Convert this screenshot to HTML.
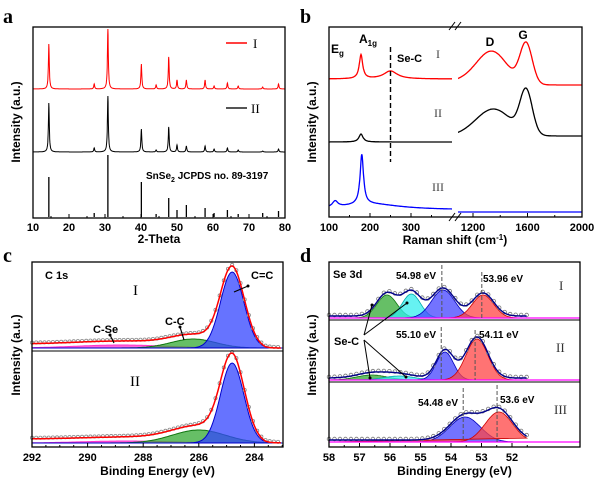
<!DOCTYPE html>
<html><head><meta charset="utf-8"><style>
html,body{margin:0;padding:0;background:#fff}
svg{display:block;font-family:"Liberation Sans",Arial,sans-serif}
.b{font-weight:bold}
.ser{font-family:"Liberation Serif",serif}
</style></head><body>
<svg id="fig" width="600" height="488" viewBox="0 0 600 488" xmlns="http://www.w3.org/2000/svg">
<g id="root"></g>
</svg>
<script>
// ---------- DATA ----------
const xrdPos   = [14.4, 27.0, 30.8, 40.1, 44.2, 47.7, 50.0, 52.6, 57.8, 60.3, 64.0, 67.0, 73.8, 78.2];
const xrdRedH  = [45, 5, 60, 25, 4, 32, 9, 9, 9, 3, 6, 3, 2, 5];
const xrdBlkH  = [49, 4, 56, 23, 2, 25, 7, 6, 6, 3, 4, 2, 1, 3];
const xrdRefH  = [40, 4, 62, 35, 3, 19, 7, 12, 9, 4, 7, 3, 4, 6];
const xrdTicks = [10, 20, 30, 40, 50, 60, 70, 80];
const ramRedLeft  = [[178, 24, 5], [250, 8, 20]];
const ramRedRight = [[1340, 30, 110], [1590, 40, 45], [1200, 5, 200]];
const ramBlkLeft  = [[178, 8, 6]];
const ramBlkRight = [[1350, 27, 130], [1590, 43, 45]];
const ramBluLeft  = [[115, 6, 8], [180, 50, 5], [200, 6, 90]];
const ramTicksL = [100, 200, 300];
const ramTicksR = [1200, 1600, 2000];
const c1Blue = [284.8, 76, 0.42];
const c1Green = [286.2, 9, 0.8];
const c1Mag = [288.8, 3, 1.6];
const c2Blue = [284.8, 80, 0.42];
const c2Green = [286.0, 13, 0.95];
const c2Mag = [288.6, 2, 1.6];
const cTicks = [292, 290, 288, 286, 284];
// panel d (Se 3d): components [center (axis eV), height, sigma]
const d1Comps = [[56.1, 23, 0.33], [55.3, 24, 0.3], [54.26, 28, 0.38], [52.95, 23, 0.35]];
const d2Comps = [[56.6, 5, 0.5], [55.7, 4, 0.5], [54.2, 28, 0.28], [53.15, 41, 0.36]];
const d3Comps = [[53.54, 25, 0.5], [52.43, 30, 0.45]];
const dLines = [54.3, 52.99, 54.32, 53.21, 53.6, 52.49];
const dTicks = [58, 57, 56, 55, 54, 53, 52];

// ---------- HELPERS ----------
const NS = "http://www.w3.org/2000/svg";
const root = document.getElementById('root');
function mk(tag, attrs, parent) {
  const e = document.createElementNS(NS, tag);
  for (const k in attrs) e.setAttribute(k, attrs[k]);
  (parent || root).appendChild(e);
  return e;
}
function txt(x, y, s, cls, size, anchor, parent, fill) {
  const t = mk('text', {x: x, y: y, 'font-size': size, 'text-anchor': anchor || 'start', fill: fill || '#000'}, parent);
  if (cls) t.setAttribute('class', cls);
  t.textContent = s;
  return t;
}
function gauss(x, c, h, s) { return h * Math.exp(-0.5 * ((x - c) / s) ** 2); }
function lor(x, c, h, w) { return h / (1 + ((x - c) / w) ** 2); }
function pathFrom(pts) { return pts.map((p, i) => (i ? 'L' : 'M') + p[0].toFixed(1) + ' ' + p[1].toFixed(1)).join(''); }
function box(x0, y0, x1, y1, name) {
  const r = mk('rect', {x: x0, y: y0, width: x1 - x0, height: y1 - y0, fill: 'none', stroke: '#000', 'stroke-width': 1.3});
  
  
}

// ---------- PANEL A ----------
(function () {
  const g = mk('g', {});
  
  
  const X0 = 33, X1 = 285, Y0 = 27, Y1 = 218;
  const sx = v => X0 + (v - 10) / 70 * (X1 - X0);
  function trace(base, hs, color, name) {
    const pts = [];
    for (let v = 10; v <= 80; v += 0.05) {
      let y = 0;
      xrdPos.forEach((p, i) => { y += lor(v, p, hs[i], 0.15); });
      pts.push([sx(v), base - y]);
    }
    const p = mk('path', {d: pathFrom(pts), fill: 'none', stroke: color, 'stroke-width': 1}, g);
    
    
  }
  trace(89, xrdRedH, '#f00', 'xrd-trace-I');
  trace(152, xrdBlkH, '#000', 'xrd-trace-II');
  xrdPos.forEach((p, i) => {
    const l = mk('line', {x1: sx(p), x2: sx(p), y1: 217, y2: 217 - xrdRefH[i], stroke: '#000', 'stroke-width': 1.3}, g);
    
    
  });
  box(X0, Y0, X1, Y1, 'panel-a-frame');
  for (let v = 10; v <= 80; v += 5) {
    mk('line', {x1: sx(v), x2: sx(v), y1: Y1, y2: Y1 - (v % 10 ? 2 : 4), stroke: '#000'}, g);
  }
  xrdTicks.forEach(v => txt(sx(v), 231, v, 'b', 11, 'middle', g));
  txt((X0 + X1) / 2, 243, '2-Theta', 'b', 12, 'middle', g);
  const yl = txt(0, 0, 'Intensity (a.u.)', 'b', 12, 'middle', g);
  yl.setAttribute('transform', 'translate(20,122) rotate(-90)');
  mk('line', {x1: 226, x2: 247, y1: 43, y2: 43, stroke: '#f00', 'stroke-width': 1.5}, g);
  txt(253, 48, 'I', 'ser', 13, 'start', g);
  mk('line', {x1: 226, x2: 247, y1: 108, y2: 108, stroke: '#555', 'stroke-width': 2}, g);
  txt(251, 113, 'II', 'ser', 13, 'start', g);
  const t = txt(146, 179, 'SnSe', 'b', 10, 'start', g);
  const sub = mk('tspan', {'font-size': 7, dy: 3}, t); sub.textContent = '2';
  const rest = mk('tspan', {dy: -3}, t); rest.textContent = ' JCPDS no. 89-3197';
  txt(3, 23, 'a', 'b ser', 20, 'start', g);
})();

// ---------- PANEL B ----------
(function () {
  const g = mk('g', {});
  
  
  const X0 = 329, X1 = 582, Y0 = 27, Y1 = 217;
  const sL = v => X0 + (v - 100) * 0.41;
  const sR = v => 473 + (v - 1200) * (109 / 800);
  function seg(s, a, b, step, base, peaks, color, name, kind) {
    const pts = [];
    for (let v = a; v <= b; v += step) {
      let y = 0;
      peaks.forEach(p => { y += kind === 'g' ? gauss(v, p[0], p[1], p[2]) : lor(v, p[0], p[1], p[2]); });
      pts.push([s(v), base - y]);
    }
    const p = mk('path', {d: pathFrom(pts), fill: 'none', stroke: color, 'stroke-width': 1.3}, g);
    
    
  }
  seg(sL, 100, 400, 1, 79, ramRedLeft, '#f00', 'raman-I-low', 'l');
  seg(sR, 1085, 2000, 4, 85, ramRedRight, '#f00', 'raman-I-high', 'g');
  seg(sL, 100, 400, 1, 142, ramBlkLeft, '#000', 'raman-II-low', 'l');
  seg(sR, 1085, 2000, 4, 136, ramBlkRight, '#000', 'raman-II-high', 'g');
  seg(sL, 100, 400, 1, 210, ramBluLeft, '#00f', 'raman-III-low', 'l');
  seg(sR, 1085, 2000, 4, 212, [], '#00f', 'raman-III-high', 'l');
  box(X0, Y0, X1, Y1, 'panel-b-frame');
  mk('rect', {x: 452, y: 20, width: 6, height: 204, fill: '#fff'}, g);
  [[449, 30, 455, 22], [455, 30, 461, 22], [449, 221, 455, 213], [455, 221, 461, 213]].forEach(l =>
    mk('line', {x1: l[0], y1: l[1], x2: l[2], y2: l[3], stroke: '#000'}, g));
  const dl = mk('line', {x1: sL(250), x2: sL(250), y1: 47, y2: 162, stroke: '#000', 'stroke-width': 1.4, 'stroke-dasharray': '5,3'}, g);
  
  
  [100, 150, 200, 250, 300, 350].forEach(v => mk('line', {x1: sL(v), x2: sL(v), y1: Y1, y2: Y1 - (v % 100 ? 2 : 4), stroke: '#000'}, g));
  [1200, 1400, 1600, 1800, 2000].forEach(v => mk('line', {x1: sR(v), x2: sR(v), y1: Y1, y2: Y1 - (v % 400 ? 2 : 4), stroke: '#000'}, g));
  ramTicksL.forEach(v => txt(sL(v), 231, v, 'b', 11, 'middle', g));
  ramTicksR.forEach(v => txt(sR(v), 231, v, 'b', 11, 'middle', g));
  const xt = txt(455, 244, 'Raman shift (cm', 'b', 12, 'middle', g);
  const sp = mk('tspan', {'font-size': 8, dy: -4}, xt); sp.textContent = '-1';
  const sp2 = mk('tspan', {dy: 4}, xt); sp2.textContent = ')';
  const yl = txt(0, 0, 'Intensity (a.u.)', 'b', 12, 'middle', g);
  yl.setAttribute('transform', 'translate(316,122) rotate(-90)');
  const eg = txt(331, 53, 'E', 'b', 12, 'start', g); const e1 = mk('tspan', {'font-size': 8, dy: 3}, eg); e1.textContent = 'g';
  const a1 = txt(359, 43, 'A', 'b', 12, 'start', g); const a2 = mk('tspan', {'font-size': 8, dy: 3}, a1); a2.textContent = '1g';
  txt(397, 62, 'Se-C', 'b', 11, 'start', g);
  txt(436, 58, 'I', 'ser', 12, 'start', g, '#444');
  txt(434, 117, 'II', 'ser', 12, 'start', g, '#444');
  txt(432, 191, 'III', 'ser', 12, 'start', g, '#444');
  txt(490, 46, 'D', 'b', 12, 'middle', g);
  txt(523, 39, 'G', 'b', 12, 'middle', g);
  txt(300, 23, 'b', 'b ser', 20, 'start', g);
})();

// ---------- PANEL C ----------
(function () {
  const g = mk('g', {});
  
  
  const X0 = 32, X1 = 283, Y0 = 262, Y1 = 447;
  const sx = v => X0 + (292 - v) * 27.8;
  function spectrum(base, blue, green, mag, off, tag) {
    const comps = [[mag, '#ff33cc', '#ff33cc'], [green, '#33aa33', '#117711'], [blue, '#3344ff', '#0000cc']];
    comps.forEach(c => {
      const pts = [];
      for (let v = 292; v >= 283; v -= 0.05) pts.push([sx(v), base - gauss(v, c[0][0], c[0][1], c[0][2])]);
      const f = mk('path', {d: pathFrom(pts) + 'L' + sx(283) + ' ' + base + 'L' + sx(292) + ' ' + base + 'Z', fill: c[1], 'fill-opacity': 0.75, stroke: c[2], 'stroke-width': 1}, g);
      
      
    });
    const env = [];
    for (let v = 292; v >= 283; v -= 0.05) {
      const y = gauss(v, blue[0], blue[1], blue[2]) + gauss(v, green[0], green[1], green[2]) + gauss(v, mag[0], mag[1], mag[2]) + off * (v > 284.2 ? 1 : Math.max(0, (v - 283.6) / 0.6));
      env.push([sx(v), base - y]);
    }
    env.forEach((p, i) => { if (i % 3 === 0) mk('circle', {cx: p[0], cy: p[1] - 1, r: 1.6, fill: '#fff', stroke: '#888', 'stroke-width': 0.8}, g); });
    const e = mk('path', {d: pathFrom(env), fill: 'none', stroke: '#f00', 'stroke-width': 1.5}, g);
    
    
  }
  spectrum(348, c1Blue, c1Green, c1Mag, 4, 'c1s-I');
  spectrum(443, c2Blue, c2Green, c2Mag, 4, 'c1s-II');
  mk('line', {x1: X0, x2: X1, y1: 351, y2: 351, stroke: '#000', 'stroke-width': 1}, g);
  box(X0, Y0, X1, Y1, 'panel-c-frame');
  for (let v = 292; v >= 283; v -= 0.5) mk('line', {x1: sx(v), x2: sx(v), y1: Y1, y2: Y1 - (v % 2 === 0 ? 4 : 2), stroke: '#000'}, g);
  cTicks.forEach(v => txt(sx(v), 461, v, 'b', 11, 'middle', g));
  txt((X0 + X1) / 2, 475, 'Binding Energy (eV)', 'b', 12, 'middle', g);
  const yl = txt(0, 0, 'Intensity (a.u.)', 'b', 12, 'middle', g);
  yl.setAttribute('transform', 'translate(20,355) rotate(-90)');
  txt(45, 279, 'C 1s', 'b', 11, 'start', g);
  txt(133, 295, 'I', 'ser', 15, 'start', g);
  txt(130, 386, 'II', 'ser', 15, 'start', g);
  txt(251, 279, 'C=C', 'b', 11, 'start', g);
  txt(93, 333, 'C-Se', 'b', 11, 'start', g);
  txt(165, 325, 'C-C', 'b', 11, 'start', g);
  [[234, 292, 248, 286], [114, 343, 110, 335], [184, 340, 180, 327]].forEach(a => {
    mk('line', {x1: a[0], y1: a[1], x2: a[2], y2: a[3], stroke: '#000', 'stroke-width': 1.2}, g);
    mk('circle', {cx: a[2], cy: a[3], r: 1.5, fill: '#000'}, g);
  });
  txt(3, 262, 'c', 'b ser', 20, 'start', g);
})();

// ---------- PANEL D ----------
(function () {
  const g = mk('g', {});
  
  
  const X0 = 329, X1 = 580, Y0 = 262, Y1 = 447;
  const sx = v => X0 + (58 - v) * 30.5;
  const fills = [['#33aa33', '#117711'], ['#33eeee', '#00aaaa'], ['#4444ff', '#0000bb'], ['#ff4444', '#cc0000']];
  function spectrum(base, comps, colIdx, tag) {
    comps.forEach((c, k) => {
      const pts = [];
      for (let v = 58; v >= 51.5; v -= 0.03) pts.push([sx(v), base - gauss(v, c[0], c[1], c[2])]);
      const col = fills[colIdx[k]];
      const f = mk('path', {d: pathFrom(pts) + 'Z', fill: col[0], 'fill-opacity': 0.75, stroke: col[1], 'stroke-width': 0.8}, g);
      
      
    });
    mk('line', {x1: X0, x2: X1, y1: base, y2: base, stroke: '#ff00ff', 'stroke-width': 1.2}, g);
    const env = [];
    for (let v = 58; v >= 51.5; v -= 0.03) {
      let y = 0; comps.forEach(c => { y += gauss(v, c[0], c[1], c[2]); });
      env.push([sx(v), base - y - 2]);
    }
    env.forEach((p, i) => { if (i % 6 === 0) mk('circle', {cx: p[0], cy: p[1] - 1, r: 1.8, fill: '#fff', stroke: '#777', 'stroke-width': 0.8}, g); });
    const e = mk('path', {d: pathFrom(env), fill: 'none', stroke: '#000088', 'stroke-width': 1.4}, g);
    
    
  }
  spectrum(318, d1Comps, [0, 1, 2, 3], 'se3d-I');
  spectrum(380, d2Comps, [0, 1, 2, 3], 'se3d-II');
  spectrum(442, d3Comps, [2, 3], 'se3d-III');
  mk('line', {x1: X0, x2: X1, y1: 320, y2: 320, stroke: '#000'}, g);
  mk('line', {x1: X0, x2: X1, y1: 382, y2: 382, stroke: '#000'}, g);
  const spans = [[265, 318], [272, 318], [327, 380], [330, 380], [388, 442], [385, 442]];
  dLines.forEach((v, i) => {
    const l = mk('line', {x1: sx(v), x2: sx(v), y1: spans[i][0], y2: spans[i][1], stroke: '#555', 'stroke-width': 1, 'stroke-dasharray': '4,2'}, g);
    
    
  });
  box(X0, Y0, X1, Y1, 'panel-d-frame');
  for (let v = 58; v >= 51.5; v -= 0.5) mk('line', {x1: sx(v), x2: sx(v), y1: Y1, y2: Y1 - (v % 1 === 0 ? 4 : 2), stroke: '#000'}, g);
  dTicks.forEach(v => txt(sx(v), 461, v, 'b', 11, 'middle', g));
  txt((X0 + X1) / 2, 475, 'Binding Energy (eV)', 'b', 12, 'middle', g);
  const yl = txt(0, 0, 'Intensity (a.u.)', 'b', 12, 'middle', g);
  yl.setAttribute('transform', 'translate(316,355) rotate(-90)');
  txt(333, 278, 'Se 3d', 'b', 11, 'start', g);
  txt(396, 279, '54.98 eV', 'b', 10, 'start', g);
  txt(483, 282, '53.96 eV', 'b', 10, 'start', g);
  txt(396, 338, '55.10 eV', 'b', 10, 'start', g);
  txt(479, 338, '54.11 eV', 'b', 10, 'start', g);
  txt(418, 406, '54.48 eV', 'b', 10, 'start', g);
  txt(500, 403, '53.6 eV', 'b', 10, 'start', g);
  txt(559, 290, 'I', 'ser', 13, 'start', g, '#333');
  txt(556, 352, 'II', 'ser', 13, 'start', g, '#333');
  txt(554, 414, 'III', 'ser', 13, 'start', g, '#333');
  txt(334, 345, 'Se-C', 'b', 11, 'start', g);
  [[364, 335, 372, 305], [364, 335, 407, 303], [364, 340, 370, 378], [364, 340, 406, 377]].forEach(a => {
    mk('line', {x1: a[0], y1: a[1], x2: a[2], y2: a[3], stroke: '#000', 'stroke-width': 1}, g);
    mk('circle', {cx: a[2], cy: a[3], r: 1.5, fill: '#000'}, g);
  });
  txt(300, 262, 'd', 'b ser', 20, 'start', g);
})();
</script>
</body></html>
